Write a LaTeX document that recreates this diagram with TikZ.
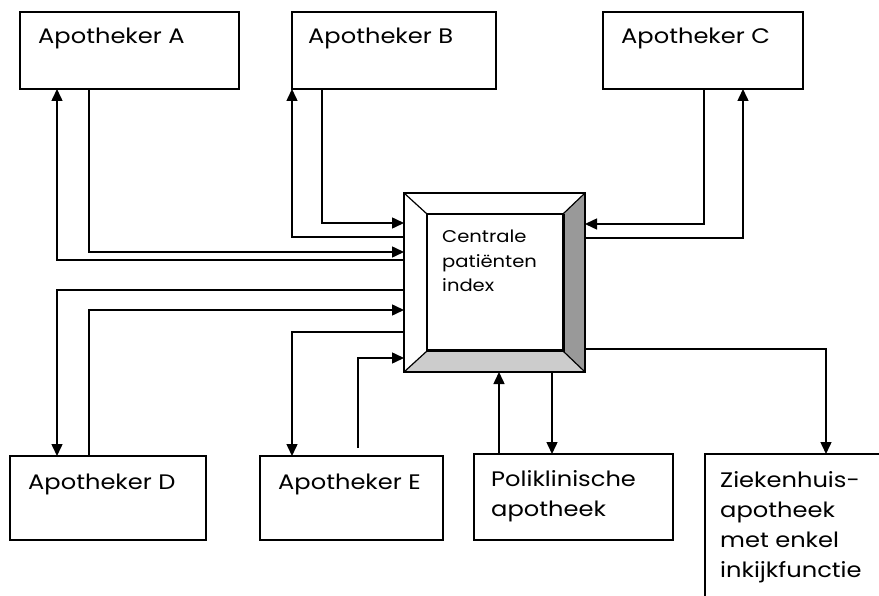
\documentclass[tikz,border=0pt]{standalone}
\usepackage{fontspec}
\setmainfont{Poppins}[FakeStretch=1.15]
\usetikzlibrary{arrows.meta,calc}
\begin{document}
\begin{tikzpicture}[x=1pt,y=-1pt,
  box/.style={draw, line width=1.5pt, minimum width=#1, anchor=north west, inner sep=0pt, outer sep=0pt, fill=white},
  lbl/.style={anchor=base west, inner sep=0pt, font=\fontsize{21}{30}\selectfont, align=left},
  clbl/.style={anchor=base west, inner sep=0pt, font=\fontsize{17}{25}\selectfont, align=left},
  arr/.style={line width=1.5pt, -{Triangle[length=12pt,width=11pt]}},
  bevel/.style={line width=1.2pt}]
\clip (0,0) rectangle (879,596);
\fill[white] (0,0) rectangle (879,596);
% boxes
\node[box=219pt, minimum height=77pt] (A) at (20,12) {};
\node[box=204pt, minimum height=77pt] (B) at (292,12) {};
\node[box=200pt, minimum height=77pt] (C) at (603,12) {};
\node[box=196pt, minimum height=84pt] (D) at (10,456) {};
\node[box=183pt, minimum height=84pt] (E) at (260,456) {};
\node[box=199pt, minimum height=86pt] (P) at (474,454) {};
\node[box=220pt, minimum height=200pt] (Z) at (705,454) {};
% central bevelled box
\node[box=181pt, minimum height=179pt] (cpi) at (404,193) {};
\fill[gray!80] (585,193) -- (585,372) -- (563,351) -- (563,214) -- cycle;
\fill[gray!40] (404,372) -- (585,372) -- (563,351) -- (427,351) -- cycle;
\draw[bevel] (404,193) -- (427,214) (585,193) -- (563,214) (404,372) -- (427,351) (585,372) -- (563,351);
\draw[line width=1.5pt] (cpi.north west) rectangle (cpi.south east);
\node[draw, line width=1.2pt, fill=white, anchor=north west, minimum width=136pt, minimum height=137pt, inner sep=0pt, outer sep=0pt] (inner) at (427,214) {};
\draw[line width=3pt] (inner.north east) -- (inner.south east) -- (inner.south west);
% texts (base anchor = last line)
\node[lbl] (tA) at (38,44) {Apotheker A};
\node[lbl] (tB) at (308,44) {Apotheker B};
\node[lbl] (tC) at (621,44) {Apotheker C};
\node[lbl] (tD) at (28,489) {Apotheker D};
\node[lbl] (tE) at (278,489) {Apotheker E};
\node[lbl] (tP) at (491,516) {Poliklinische\\apotheek};
\node[lbl] (tZ) at (720,577) {Ziekenhuis-\\apotheek\\met enkel\\inkijkfunctie};
\node[clbl] (tcpi) at (442,292) {Centrale\\patiënten\\index};
% connectors
\coordinate (eS) at (358,448);
\draw[arr] (cpi.west |- 0,260) -| (A.south -| 57,0);
\draw[arr] (A.south -| 89,0) |- (cpi.west |- 0,252);
\draw[arr] (cpi.west |- 0,237) -| (B.south -| 292,0);
\draw[arr] (B.south -| 322,0) |- (cpi.west |- 0,223);
\draw[arr] (C.south -| 704,0) |- (cpi.east |- 0,224);
\draw[arr] (cpi.east |- 0,238) -| (C.south -| 743,0);
\draw[arr] (cpi.west |- 0,290) -| (D.north -| 57,0);
\draw[arr] (D.north -| 89,0) |- (cpi.west |- 0,310);
\draw[arr] (cpi.west |- 0,332) -| (E.north -| 292,0);
\draw[arr] (eS) |- (cpi.west |- 0,358);
\draw[arr] (P.north -| 499,0) -- (cpi.south -| 499,0);
\draw[arr] (cpi.south -| 552,0) -- (P.north -| 552,0);
\draw[arr] (cpi.east |- 0,349) -| (Z.north -| 826,0);
\end{tikzpicture}
\end{document}
